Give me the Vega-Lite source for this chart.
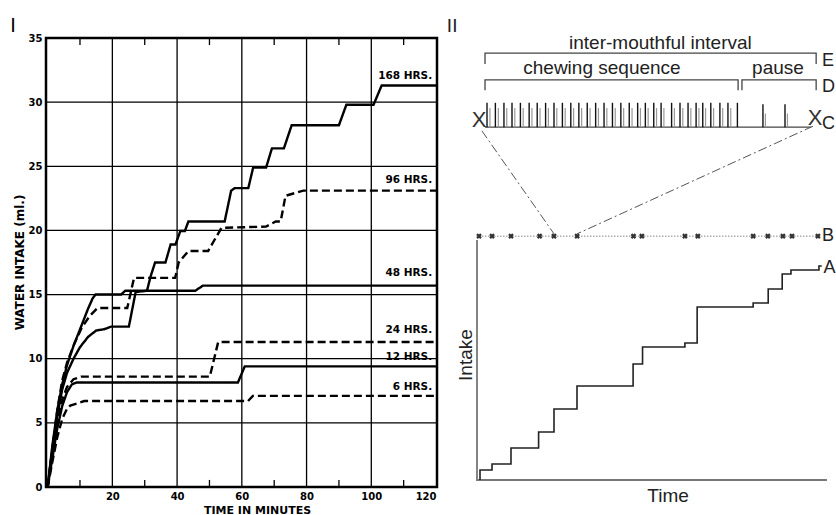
{
  "$schema": "https://vega.github.io/schema/vega-lite/v6.json",
  "width": 391,
  "height": 449,
  "autosize": "none",
  "padding": {"left": 46, "top": 38, "right": 399, "bottom": 28},
  "background": "white",
  "config": {"view": {"stroke": "black", "strokeWidth": 2.5}, "font": "Liberation Sans"},
  "resolve": {"scale": {"x": "independent", "y": "independent"}},
  "layer": [
    {
      "encoding": {
        "x": {"field": "t", "type": "quantitative", "scale": {"domain": [-0.5, 120.3], "nice": false, "zero": false},
          "axis": {"values": [20, 40, 60, 80, 100, 120], "grid": false, "domain": false, "tickSize": 0, "labelPadding": 4,
            "labelFont": "DejaVu Sans", "labelFontWeight": "bold", "labelFontSize": 10, "labelColor": "black",
            "title": "TIME IN MINUTES", "titleFont": "DejaVu Sans", "titleFontWeight": "bold", "titleFontSize": 11, "titleColor": "black",
            "titleX": 211, "titleY": 23, "titleBaseline": "middle"}},
        "y": {"field": "v", "type": "quantitative", "scale": {"domain": [0, 35], "nice": false, "zero": false},
          "axis": {"values": [0, 5, 10, 15, 20, 25, 30, 35], "grid": false, "domain": false, "tickSize": 0, "labelPadding": 4,
            "labelFont": "DejaVu Sans", "labelFontWeight": "bold", "labelFontSize": 10, "labelColor": "black",
            "title": "WATER INTAKE (ml.)", "titleFont": "DejaVu Sans", "titleFontWeight": "bold", "titleFontSize": 12, "titleColor": "black",
            "titleX": -27, "titleY": 224, "titleAngle": -90, "titleAlign": "center", "titleBaseline": "middle"}}
      },
      "layer": [
        {
          "data": {"values": [
            {"t": 20, "v": 0, "v2": 35}, {"t": 40, "v": 0, "v2": 35}, {"t": 60, "v": 0, "v2": 35},
            {"t": 80, "v": 0, "v2": 35}, {"t": 100, "v": 0, "v2": 35},
            {"t": 10, "v": 35, "v2": 34.45}, {"t": 30, "v": 35, "v2": 34.45}, {"t": 50, "v": 35, "v2": 34.45},
            {"t": 70, "v": 35, "v2": 34.45}, {"t": 90, "v": 35, "v2": 34.45}, {"t": 110, "v": 35, "v2": 34.45},
            {"t": 10, "v": 0, "v2": 0.55}, {"t": 30, "v": 0, "v2": 0.55}, {"t": 50, "v": 0, "v2": 0.55},
            {"t": 70, "v": 0, "v2": 0.55}, {"t": 90, "v": 0, "v2": 0.55}, {"t": 110, "v": 0, "v2": 0.55}
          ]},
          "mark": {"type": "rule", "color": "black", "strokeWidth": 1.3},
          "encoding": {"y2": {"field": "v2"}}
        },
        {
          "data": {"values": [
            {"t": -0.5, "t2": 120.3, "v": 5}, {"t": -0.5, "t2": 120.3, "v": 10}, {"t": -0.5, "t2": 120.3, "v": 15},
            {"t": -0.5, "t2": 120.3, "v": 20}, {"t": -0.5, "t2": 120.3, "v": 25}, {"t": -0.5, "t2": 120.3, "v": 30}
          ]},
          "mark": {"type": "rule", "color": "black", "strokeWidth": 1.3},
          "encoding": {"x2": {"field": "t2"}}
        },
        {
          "data": {"values": [
            {"s": "168", "d": "solid", "i": 0, "t": 0, "v": 0}, {"s": "168", "d": "solid", "i": 1, "t": 1.5, "v": 3},
            {"s": "168", "d": "solid", "i": 2, "t": 3, "v": 5.6}, {"s": "168", "d": "solid", "i": 3, "t": 4.5, "v": 7.6},
            {"s": "168", "d": "solid", "i": 4, "t": 6, "v": 8.9}, {"s": "168", "d": "solid", "i": 5, "t": 8, "v": 10},
            {"s": "168", "d": "solid", "i": 6, "t": 10, "v": 10.9}, {"s": "168", "d": "solid", "i": 7, "t": 12.5, "v": 11.7},
            {"s": "168", "d": "solid", "i": 8, "t": 15, "v": 12.2}, {"s": "168", "d": "solid", "i": 9, "t": 17.5, "v": 12.3},
            {"s": "168", "d": "solid", "i": 10, "t": 19.6, "v": 12.5}, {"s": "168", "d": "solid", "i": 11, "t": 25.1, "v": 12.5},
            {"s": "168", "d": "solid", "i": 12, "t": 27.2, "v": 15.2}, {"s": "168", "d": "solid", "i": 13, "t": 30.7, "v": 15.3},
            {"s": "168", "d": "solid", "i": 14, "t": 31.8, "v": 16.4}, {"s": "168", "d": "solid", "i": 15, "t": 33.2, "v": 17.5},
            {"s": "168", "d": "solid", "i": 16, "t": 36.4, "v": 17.5}, {"s": "168", "d": "solid", "i": 17, "t": 38, "v": 18.9},
            {"s": "168", "d": "solid", "i": 18, "t": 39.5, "v": 18.9}, {"s": "168", "d": "solid", "i": 19, "t": 41, "v": 19.95},
            {"s": "168", "d": "solid", "i": 20, "t": 42.4, "v": 19.95}, {"s": "168", "d": "solid", "i": 21, "t": 43.5, "v": 20.7},
            {"s": "168", "d": "solid", "i": 22, "t": 54.7, "v": 20.7}, {"s": "168", "d": "solid", "i": 23, "t": 56.7, "v": 23.1},
            {"s": "168", "d": "solid", "i": 24, "t": 57.8, "v": 23.3}, {"s": "168", "d": "solid", "i": 25, "t": 62, "v": 23.3},
            {"s": "168", "d": "solid", "i": 26, "t": 63.5, "v": 24.9}, {"s": "168", "d": "solid", "i": 27, "t": 67.5, "v": 24.9},
            {"s": "168", "d": "solid", "i": 28, "t": 69.3, "v": 26.4}, {"s": "168", "d": "solid", "i": 29, "t": 73, "v": 26.4},
            {"s": "168", "d": "solid", "i": 30, "t": 75.4, "v": 28.2}, {"s": "168", "d": "solid", "i": 31, "t": 90, "v": 28.2},
            {"s": "168", "d": "solid", "i": 32, "t": 92.3, "v": 29.8}, {"s": "168", "d": "solid", "i": 33, "t": 100.7, "v": 29.8},
            {"s": "168", "d": "solid", "i": 34, "t": 103.2, "v": 31.3}, {"s": "168", "d": "solid", "i": 35, "t": 120, "v": 31.3},

            {"s": "96", "d": "dashed", "i": 0, "t": 0, "v": 0}, {"s": "96", "d": "dashed", "i": 1, "t": 1.5, "v": 3},
            {"s": "96", "d": "dashed", "i": 2, "t": 3, "v": 6}, {"s": "96", "d": "dashed", "i": 3, "t": 4.5, "v": 8.3},
            {"s": "96", "d": "dashed", "i": 4, "t": 6, "v": 9.7}, {"s": "96", "d": "dashed", "i": 5, "t": 8.3, "v": 11.2},
            {"s": "96", "d": "dashed", "i": 6, "t": 10.5, "v": 12.4}, {"s": "96", "d": "dashed", "i": 7, "t": 12.9, "v": 13.3},
            {"s": "96", "d": "dashed", "i": 8, "t": 15.4, "v": 13.95}, {"s": "96", "d": "dashed", "i": 9, "t": 24.6, "v": 13.95},
            {"s": "96", "d": "dashed", "i": 10, "t": 26.7, "v": 16.3}, {"s": "96", "d": "dashed", "i": 11, "t": 39.4, "v": 16.3},
            {"s": "96", "d": "dashed", "i": 12, "t": 40.5, "v": 17.5}, {"s": "96", "d": "dashed", "i": 13, "t": 43.5, "v": 18.4},
            {"s": "96", "d": "dashed", "i": 14, "t": 49.6, "v": 18.4}, {"s": "96", "d": "dashed", "i": 15, "t": 53.7, "v": 20.2},
            {"s": "96", "d": "dashed", "i": 16, "t": 67.5, "v": 20.3}, {"s": "96", "d": "dashed", "i": 17, "t": 70.5, "v": 20.7},
            {"s": "96", "d": "dashed", "i": 18, "t": 72, "v": 20.7}, {"s": "96", "d": "dashed", "i": 19, "t": 73.5, "v": 22.7},
            {"s": "96", "d": "dashed", "i": 20, "t": 79, "v": 23.1}, {"s": "96", "d": "dashed", "i": 21, "t": 120, "v": 23.1},

            {"s": "48", "d": "solid", "i": 0, "t": 0, "v": 0}, {"s": "48", "d": "solid", "i": 1, "t": 1.5, "v": 3.3},
            {"s": "48", "d": "solid", "i": 2, "t": 3, "v": 6}, {"s": "48", "d": "solid", "i": 3, "t": 4.5, "v": 8},
            {"s": "48", "d": "solid", "i": 4, "t": 6, "v": 9.5}, {"s": "48", "d": "solid", "i": 5, "t": 8, "v": 11},
            {"s": "48", "d": "solid", "i": 6, "t": 10.8, "v": 12.8}, {"s": "48", "d": "solid", "i": 7, "t": 12.5, "v": 13.9},
            {"s": "48", "d": "solid", "i": 8, "t": 13.9, "v": 14.7}, {"s": "48", "d": "solid", "i": 9, "t": 14.8, "v": 15},
            {"s": "48", "d": "solid", "i": 10, "t": 22.7, "v": 15}, {"s": "48", "d": "solid", "i": 11, "t": 24, "v": 15.3},
            {"s": "48", "d": "solid", "i": 12, "t": 45.6, "v": 15.3}, {"s": "48", "d": "solid", "i": 13, "t": 48, "v": 15.7},
            {"s": "48", "d": "solid", "i": 14, "t": 120, "v": 15.7},

            {"s": "24", "d": "dashed", "i": 0, "t": 0, "v": 0}, {"s": "24", "d": "dashed", "i": 1, "t": 1.5, "v": 2.6},
            {"s": "24", "d": "dashed", "i": 2, "t": 3, "v": 5}, {"s": "24", "d": "dashed", "i": 3, "t": 4.5, "v": 6.8},
            {"s": "24", "d": "dashed", "i": 4, "t": 6, "v": 7.8}, {"s": "24", "d": "dashed", "i": 5, "t": 8, "v": 8.4},
            {"s": "24", "d": "dashed", "i": 6, "t": 10.3, "v": 8.6}, {"s": "24", "d": "dashed", "i": 7, "t": 50.1, "v": 8.6},
            {"s": "24", "d": "dashed", "i": 8, "t": 52.7, "v": 11.3}, {"s": "24", "d": "dashed", "i": 9, "t": 120, "v": 11.3},

            {"s": "12", "d": "solid", "i": 0, "t": 0, "v": 0}, {"s": "12", "d": "solid", "i": 1, "t": 1.5, "v": 2.3},
            {"s": "12", "d": "solid", "i": 2, "t": 3, "v": 4.6}, {"s": "12", "d": "solid", "i": 3, "t": 4.5, "v": 6.3},
            {"s": "12", "d": "solid", "i": 4, "t": 6, "v": 7.4}, {"s": "12", "d": "solid", "i": 5, "t": 7.5, "v": 8},
            {"s": "12", "d": "solid", "i": 6, "t": 9, "v": 8.15}, {"s": "12", "d": "solid", "i": 7, "t": 58.8, "v": 8.15},
            {"s": "12", "d": "solid", "i": 8, "t": 60.9, "v": 9.4}, {"s": "12", "d": "solid", "i": 9, "t": 120, "v": 9.4},

            {"s": "6", "d": "dashed", "i": 0, "t": 0, "v": 0}, {"s": "6", "d": "dashed", "i": 1, "t": 1.5, "v": 2},
            {"s": "6", "d": "dashed", "i": 2, "t": 3, "v": 3.9}, {"s": "6", "d": "dashed", "i": 3, "t": 4.5, "v": 5.3},
            {"s": "6", "d": "dashed", "i": 4, "t": 6, "v": 6.1}, {"s": "6", "d": "dashed", "i": 5, "t": 7, "v": 6.35},
            {"s": "6", "d": "dashed", "i": 6, "t": 9, "v": 6.5}, {"s": "6", "d": "dashed", "i": 7, "t": 11.3, "v": 6.7},
            {"s": "6", "d": "dashed", "i": 8, "t": 61.9, "v": 6.7}, {"s": "6", "d": "dashed", "i": 9, "t": 63.4, "v": 7.1},
            {"s": "6", "d": "dashed", "i": 10, "t": 120, "v": 7.1}
          ]},
          "mark": {"type": "line", "color": "black", "strokeWidth": 2.4},
          "encoding": {
            "detail": {"field": "s"},
            "order": {"field": "i", "type": "quantitative"},
            "strokeDash": {"field": "d", "type": "nominal", "scale": {"domain": ["solid", "dashed"], "range": [[1, 0], [8, 4]]}, "legend": null}
          }
        },
        {
          "data": {"values": [
            {"t": 118.8, "v": 32.0, "label": "168 HRS."},
            {"t": 118.8, "v": 23.9, "label": "96 HRS."},
            {"t": 118.8, "v": 16.7, "label": "48 HRS."},
            {"t": 118.8, "v": 12.2, "label": "24 HRS."},
            {"t": 118.8, "v": 10.15, "label": "12 HRS."},
            {"t": 118.8, "v": 7.8, "label": "6 HRS."}
          ]},
          "mark": {"type": "text", "align": "right", "baseline": "middle", "font": "DejaVu Sans", "fontWeight": "bold", "fontSize": 10.5, "color": "black"},
          "encoding": {"text": {"field": "label"}}
        },
        {
          "data": {"values": [{"t": -10.7, "v": 35.9, "label": "I"}]},
          "mark": {"type": "text", "align": "center", "baseline": "middle", "font": "Liberation Sans", "fontSize": 20, "color": "black"},
          "encoding": {"text": {"field": "label"}}
        }
      ]
    },
    {
      "encoding": {
        "x": {"field": "x", "type": "quantitative", "scale": {"domain": [0, 100], "range": [431, 781], "nice": false, "zero": false}, "axis": null},
        "y": {"field": "y", "type": "quantitative", "scale": {"domain": [0, 100], "range": [442, -26], "nice": false, "zero": false}, "axis": null}
      },
      "layer": [
        {
          "data": {"values": [
            {"b": "E", "i": 0, "x": 2.29, "y": 88.9}, {"b": "E", "i": 1, "x": 2.29, "y": 91.2},
            {"b": "E", "i": 2, "x": 96.9, "y": 91.2}, {"b": "E", "i": 3, "x": 96.9, "y": 88.9},
            {"b": "D1", "i": 0, "x": 2.29, "y": 83.3}, {"b": "D1", "i": 1, "x": 2.29, "y": 85.5},
            {"b": "D1", "i": 2, "x": 74.6, "y": 85.5}, {"b": "D1", "i": 3, "x": 74.6, "y": 83.3},
            {"b": "D2", "i": 0, "x": 75.7, "y": 83.3}, {"b": "D2", "i": 1, "x": 75.7, "y": 85.5},
            {"b": "D2", "i": 2, "x": 96.9, "y": 85.5}, {"b": "D2", "i": 3, "x": 96.9, "y": 83.3}
          ]},
          "mark": {"type": "line", "color": "#444", "strokeWidth": 1.3},
          "encoding": {"detail": {"field": "b"}, "order": {"field": "i", "type": "quantitative"}}
        },
        {
          "data": {"values": [
            {"x": 2.3, "x2": 95.5, "y": 75.4}
          ]},
          "mark": {"type": "rule", "color": "#444", "strokeWidth": 1.1},
          "encoding": {"x2": {"field": "x2"}}
        },
        {
          "data": {"values": [
            {"x": 2.86, "y": 75.4, "y2": 80.6}, {"x": 5.25, "y": 75.4, "y2": 80.6}, {"x": 7.7, "y": 75.4, "y2": 80.6},
            {"x": 10.0, "y": 75.4, "y2": 80.6}, {"x": 12.4, "y": 75.4, "y2": 80.6}, {"x": 14.9, "y": 75.4, "y2": 80.6},
            {"x": 17.2, "y": 75.4, "y2": 80.6}, {"x": 19.6, "y": 75.4, "y2": 80.6}, {"x": 22.0, "y": 75.4, "y2": 80.6},
            {"x": 24.4, "y": 75.4, "y2": 80.6}, {"x": 26.8, "y": 75.4, "y2": 80.6}, {"x": 29.1, "y": 75.4, "y2": 80.6},
            {"x": 31.5, "y": 75.4, "y2": 80.6}, {"x": 33.9, "y": 75.4, "y2": 80.6}, {"x": 36.3, "y": 75.4, "y2": 80.6},
            {"x": 38.7, "y": 75.4, "y2": 80.6}, {"x": 41.1, "y": 75.4, "y2": 80.6}, {"x": 43.5, "y": 75.4, "y2": 80.6},
            {"x": 45.9, "y": 75.4, "y2": 80.6}, {"x": 48.1, "y": 75.4, "y2": 80.6}, {"x": 50.5, "y": 75.4, "y2": 80.6},
            {"x": 52.6, "y": 75.4, "y2": 80.6}, {"x": 55.6, "y": 75.4, "y2": 80.6}, {"x": 58.0, "y": 75.4, "y2": 80.6},
            {"x": 60.3, "y": 75.4, "y2": 80.6}, {"x": 62.6, "y": 75.4, "y2": 80.6}, {"x": 64.5, "y": 75.4, "y2": 80.6},
            {"x": 66.8, "y": 75.4, "y2": 80.6}, {"x": 69.4, "y": 75.4, "y2": 80.6}, {"x": 71.7, "y": 75.4, "y2": 80.6},
            {"x": 74.4, "y": 75.4, "y2": 80.6},
            {"x": 81.7, "y": 75.4, "y2": 80.3}, {"x": 88.0, "y": 75.4, "y2": 80.3}
          ]},
          "mark": {"type": "rule", "color": "#111", "strokeWidth": 1.4},
          "encoding": {"y2": {"field": "y2"}}
        },
        {
          "data": {"values": [
            {"x": 3.7, "y": 75.4, "y2": 79.5}, {"x": 6.1, "y": 75.4, "y2": 79.5}, {"x": 8.5, "y": 75.4, "y2": 79.5},
            {"x": 10.8, "y": 75.4, "y2": 79.5}, {"x": 13.2, "y": 75.4, "y2": 79.5}, {"x": 15.7, "y": 75.4, "y2": 79.5},
            {"x": 18.0, "y": 75.4, "y2": 79.5}, {"x": 20.4, "y": 75.4, "y2": 79.5}, {"x": 22.8, "y": 75.4, "y2": 79.5},
            {"x": 25.2, "y": 75.4, "y2": 79.5}, {"x": 27.6, "y": 75.4, "y2": 79.5}, {"x": 29.9, "y": 75.4, "y2": 79.5},
            {"x": 32.3, "y": 75.4, "y2": 79.5}, {"x": 34.7, "y": 75.4, "y2": 79.5}, {"x": 37.1, "y": 75.4, "y2": 79.5},
            {"x": 39.5, "y": 75.4, "y2": 79.5}, {"x": 41.9, "y": 75.4, "y2": 79.5}, {"x": 44.3, "y": 75.4, "y2": 79.5},
            {"x": 46.7, "y": 75.4, "y2": 79.5}, {"x": 48.9, "y": 75.4, "y2": 79.5}, {"x": 51.3, "y": 75.4, "y2": 79.5},
            {"x": 53.4, "y": 75.4, "y2": 79.5}, {"x": 56.4, "y": 75.4, "y2": 79.5}, {"x": 58.8, "y": 75.4, "y2": 79.5},
            {"x": 61.1, "y": 75.4, "y2": 79.5}, {"x": 63.4, "y": 75.4, "y2": 79.5}, {"x": 65.3, "y": 75.4, "y2": 79.5},
            {"x": 67.6, "y": 75.4, "y2": 79.5}, {"x": 70.2, "y": 75.4, "y2": 79.5}, {"x": 72.5, "y": 75.4, "y2": 79.5},
            {"x": 82.4, "y": 75.4, "y2": 78.3}, {"x": 88.7, "y": 75.4, "y2": 78.3}
          ]},
          "mark": {"type": "rule", "color": "#999", "strokeWidth": 1.2},
          "encoding": {"y2": {"field": "y2"}}
        },
        {
          "data": {"values": [
            {"seg": "left", "i": 0, "x": 1.4, "y": 74.6}, {"seg": "left", "i": 1, "x": 22.0, "y": 52.6},
            {"seg": "right", "i": 0, "x": 96.0, "y": 75.6}, {"seg": "right", "i": 1, "x": 28.6, "y": 52.6}
          ]},
          "mark": {"type": "line", "color": "#555", "strokeWidth": 1, "strokeDash": [9, 3, 2, 3]},
          "encoding": {"detail": {"field": "seg"}, "order": {"field": "i", "type": "quantitative"}}
        },
        {
          "data": {"values": [{"x": 0.57, "x2": 98.0, "y": 52.1}]},
          "mark": {"type": "rule", "color": "#888", "strokeWidth": 1, "strokeDash": [1.5, 1.5]},
          "encoding": {"x2": {"field": "x2"}}
        },
        {
          "data": {"values": [
            {"x": 0.57, "y": 52.1}, {"x": 4.29, "y": 52.1}, {"x": 9.71, "y": 52.1}, {"x": 17.9, "y": 52.1},
            {"x": 22.0, "y": 52.1}, {"x": 28.6, "y": 52.1}, {"x": 44.7, "y": 52.1}, {"x": 47.1, "y": 52.1},
            {"x": 59.4, "y": 52.1}, {"x": 63.1, "y": 52.1}, {"x": 78.9, "y": 52.1}, {"x": 83.1, "y": 52.1},
            {"x": 87.4, "y": 52.1}, {"x": 90.0, "y": 52.1}, {"x": 97.4, "y": 52.1}
          ]},
          "mark": {"type": "point", "shape": "cross", "angle": 45, "size": 32, "filled": true, "color": "#333", "opacity": 1}
        },
        {
          "data": {"values": [
            {"i": 0, "x": 0, "y": 51.3}, {"i": 1, "x": 0, "y": 0}, {"i": 2, "x": 100, "y": 0}
          ]},
          "mark": {"type": "line", "color": "#777", "strokeWidth": 1.8},
          "encoding": {"order": {"field": "i", "type": "quantitative"}}
        },
        {
          "data": {"values": [
            {"i": 0, "x": 0.86, "y": 0}, {"i": 1, "x": 0.86, "y": 2.14}, {"i": 2, "x": 4.29, "y": 3.42},
            {"i": 3, "x": 9.71, "y": 6.84}, {"i": 4, "x": 17.6, "y": 10.26}, {"i": 5, "x": 22.0, "y": 15.17},
            {"i": 6, "x": 28.57, "y": 20.09}, {"i": 7, "x": 44.6, "y": 24.79}, {"i": 8, "x": 47.3, "y": 28.42},
            {"i": 9, "x": 59.4, "y": 29.27}, {"i": 10, "x": 62.9, "y": 36.97}, {"i": 11, "x": 78.9, "y": 37.82},
            {"i": 12, "x": 83.2, "y": 40.81}, {"i": 13, "x": 87.2, "y": 44.02}, {"i": 14, "x": 89.7, "y": 44.87},
            {"i": 15, "x": 97.7, "y": 45.73}, {"i": 16, "x": 98.5, "y": 45.73}
          ]},
          "mark": {"type": "line", "color": "#222", "strokeWidth": 1.6, "interpolate": "step-after"},
          "encoding": {"order": {"field": "i", "type": "quantitative"}}
        },
        {
          "data": {"values": [
            {"x": 52.4, "y": 92.0, "label": "inter-mouthful interval"},
            {"x": 35.7, "y": 86.75, "label": "chewing sequence"},
            {"x": 86.0, "y": 86.75, "label": "pause"},
            {"x": 54.6, "y": -4.7, "label": "Time"},
            {"x": -7.1, "y": 95.7, "label": "II"}
          ]},
          "mark": {"type": "text", "align": "center", "baseline": "alphabetic", "font": "Liberation Sans", "fontSize": 19, "color": "#222"},
          "encoding": {"text": {"field": "label"}}
        },
        {
          "data": {"values": [
            {"x": 98.6, "y": 89.5, "label": "E"},
            {"x": 98.6, "y": 83.9, "label": "D"},
            {"x": 98.6, "y": 76.1, "label": "C"},
            {"x": 98.6, "y": 52.1, "label": "B"},
            {"x": 99.0, "y": 45.3, "label": "A"}
          ]},
          "mark": {"type": "text", "align": "left", "baseline": "middle", "font": "Liberation Sans", "fontSize": 18, "color": "#222"},
          "encoding": {"text": {"field": "label"}}
        },
        {
          "data": {"values": [
            {"x": 0.57, "y": 76.9, "label": "X"},
            {"x": 96.6, "y": 77.4, "label": "X"}
          ]},
          "mark": {"type": "text", "align": "center", "baseline": "middle", "font": "Liberation Sans", "fontSize": 22, "color": "#333"},
          "encoding": {"text": {"field": "label"}}
        },
        {
          "data": {"values": [{"x": -3.1, "y": 26.7, "label": "Intake"}]},
          "mark": {"type": "text", "align": "center", "baseline": "middle", "angle": 270, "font": "Liberation Sans", "fontSize": 19, "color": "#222"},
          "encoding": {"text": {"field": "label"}}
        }
      ]
    }
  ]
}
